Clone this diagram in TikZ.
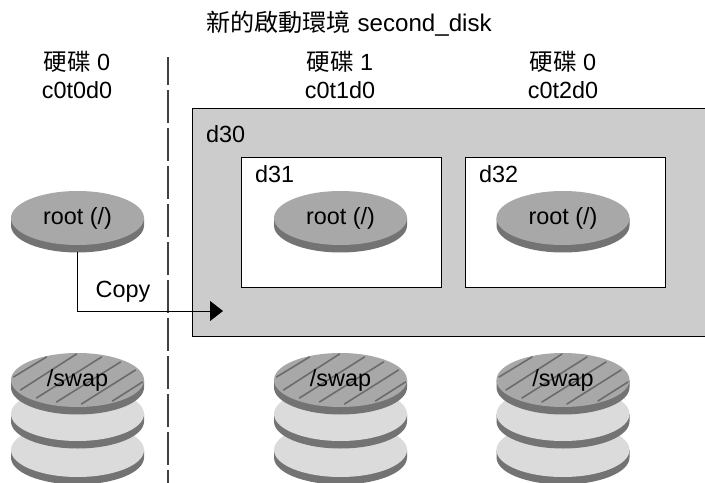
\documentclass[tikz,border=0pt]{standalone}
\usepackage{fontspec}
\setmainfont{Liberation Sans}
\newfontfamily\cjk{Noto Sans CJK TC}
\usetikzlibrary{arrows.meta}
\definecolor{panel}{gray}{0.80}
\definecolor{disktop}{gray}{0.66}
\definecolor{diskside}{gray}{0.45}
\definecolor{disklight}{gray}{0.86}
\definecolor{hatch}{gray}{0.42}
\newcommand{\diskshape}[3]{%
  \fill[diskside] (#1-66.5,#2) -- (#1-66.5,#2+7.5) arc[start angle=180,end angle=0,x radius=66.5,y radius=27] -- (#1+66.5,#2) -- cycle;
  \fill[#3] (#1,#2) ellipse[x radius=66.5,y radius=27];
}
\newcommand{\swapstack}[2]{%
  \diskshape{#1}{450}{disklight}
  \diskshape{#1}{414}{disklight}
  \diskshape{#1}{380}{disktop}
  \begin{scope}
    \clip (#1,380) ellipse[x radius=66.5,y radius=27];
    \draw[hatch,line width=1.6pt,line cap=round]
      (#1-64,377) -- (#1-31,357)
      (#1-57,390) -- (#1-1,354)
      (#1-41,398) -- (#1+24,357)
      (#1-21,402) -- (#1+43,362)
      (#1+4,404) -- (#1+58,370)
      (#1+35,401) -- (#1+65,382);
  \end{scope}
  \node[lbl] (#2) at (#1,380) {/swap};
}
\tikzset{
  lbl/.style={font=\fontsize{23.5}{28}\selectfont,inner sep=0pt,align=center,text=black},
  boxd/.style={draw=black,line width=0.8pt,fill=white,minimum width=200bp,minimum height=130bp,inner sep=0pt},
}
\begin{document}
\begin{tikzpicture}[x=1bp,y=-1bp]
\useasboundingbox (0,0) rectangle (705,483);
\fill[white] (0,0) rectangle (705,483);
\node[lbl,font=\fontsize{24.2}{28}\selectfont] (title) at (349,24) {{\cjk 新的啟動環境} second\_disk};
\node[lbl] (h0a) at (77,62) {{\cjk 硬碟} 0};
\node[lbl] (h0b) at (77,90) {c0t0d0};
\node[lbl] (h1a) at (340,62) {{\cjk 硬碟} 1};
\node[lbl] (h1b) at (340,90) {c0t1d0};
\node[lbl] (h2a) at (563,62) {{\cjk 硬碟} 0};
\node[lbl] (h2b) at (563,90) {c0t2d0};
\draw[black!75,line width=1.1pt,dash pattern=on 33bp off 5bp,dash phase=5bp] (168,57) -- (168,483);
\fill[panel] (192,108) rectangle (705,336);
\draw[black,line width=0.8pt] (705,108) -- (192,108) -- (192,336) -- (705,336);
\node[lbl,anchor=west] (d30) at (206,134) {d30};
\node[boxd] (b31) at (341,222) {};
\node[boxd] (b32) at (565,222) {};
\node[lbl,anchor=west] (d31) at (255,174) {d31};
\node[lbl,anchor=west] (d32) at (479,174) {d32};
\diskshape{77.5}{218}{disktop}
\node[lbl] (r0) at (77.5,218) {root (/)};
\diskshape{340.5}{218}{disktop}
\node[lbl] (r1) at (340.5,218) {root (/)};
\diskshape{563}{218}{disktop}
\node[lbl] (r2) at (563,218) {root (/)};
\swapstack{77.5}{s0}
\swapstack{340.5}{s1}
\swapstack{563}{s2}
\coordinate (src) at (77.5,252);
\coordinate (dst) at (223,311);
\draw[black,line width=0.9pt,-{Triangle[length=13bp,width=20bp]}] (src) |- (dst);
\node[lbl] (copy) at (123,292) {Copy};
\end{tikzpicture}
\end{document}
